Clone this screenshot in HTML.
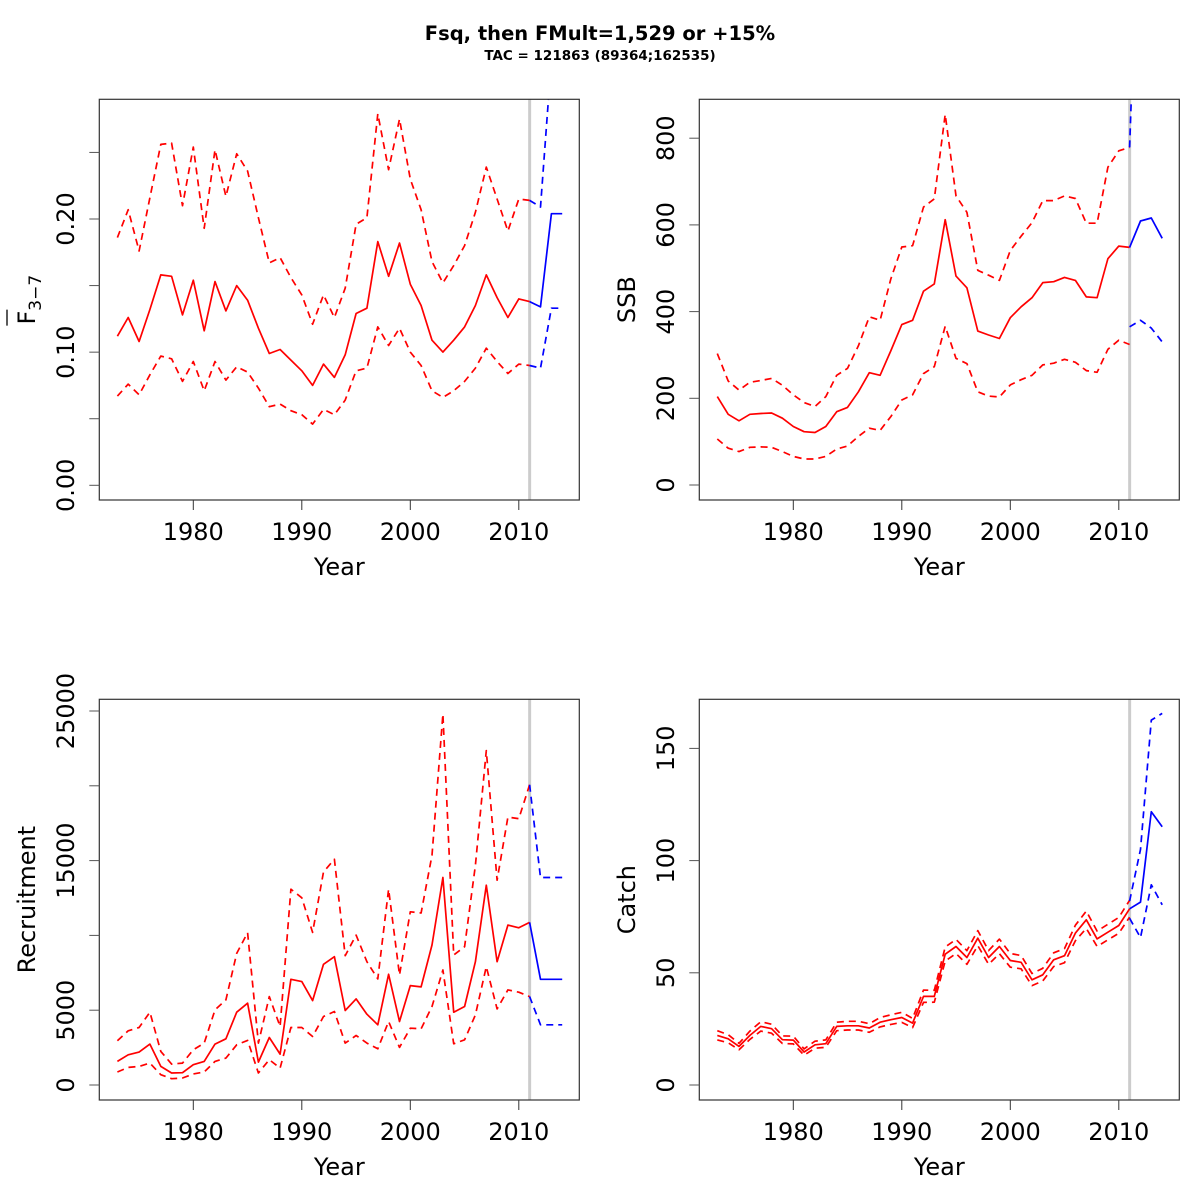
<!DOCTYPE html>
<html><head><meta charset="utf-8"><style>
html,body{margin:0;padding:0;background:#fff;}
svg{display:block;font-family:"DejaVu Sans","Liberation Sans",sans-serif;}
</style></head><body>
<svg id="chart" width="1200" height="1200" viewBox="0 0 1200 1200" xmlns="http://www.w3.org/2000/svg">
<rect width="1200" height="1200" fill="#fff"/>
<text x="600" y="40" text-anchor="middle" font-weight="bold" font-size="19.5">Fsq, then FMult=1,529 or +15%</text>
<text x="600" y="60" text-anchor="middle" font-weight="bold" font-size="13.5">TAC = 121863 (89364;162535)</text>
</svg>
<script>
const yearsHist = [1973,1974,1975,1976,1977,1978,1979,1980,1981,1982,1983,1984,1985,1986,1987,1988,1989,1990,1991,1992,1993,1994,1995,1996,1997,1998,1999,2000,2001,2002,2003,2004,2005,2006,2007,2008,2009,2010,2011];
const yearsProj = [2011,2012,2013,2014];

const fMid = [0.112,0.126,0.108,0.132,0.158,0.157,0.128,0.154,0.116,0.153,0.131,0.150,0.139,0.118,0.099,0.102,0.094,0.086,0.075,0.091,0.081,0.098,0.129,0.133,0.183,0.157,0.182,0.151,0.135,0.109,0.100,0.109,0.119,0.135,0.158,0.141,0.126,0.140,0.138];
const fUp = [0.186,0.207,0.176,0.216,0.256,0.257,0.210,0.254,0.193,0.252,0.217,0.249,0.236,0.201,0.167,0.171,0.156,0.143,0.121,0.143,0.126,0.148,0.196,0.201,0.279,0.237,0.275,0.230,0.207,0.168,0.152,0.165,0.180,0.205,0.239,0.215,0.191,0.215,0.214];
const fLo = [0.067,0.076,0.068,0.083,0.097,0.095,0.078,0.093,0.071,0.093,0.079,0.089,0.085,0.073,0.059,0.061,0.056,0.053,0.046,0.057,0.053,0.064,0.086,0.088,0.119,0.105,0.118,0.100,0.090,0.071,0.066,0.071,0.078,0.088,0.103,0.093,0.084,0.091,0.090];
const fProjMid = [0.138,0.134,0.204,0.204];
const fProjUp = [0.214,0.209,0.32,0.32];
const fProjLo = [0.090,0.088,0.133,0.133];

const ssbMid = [204,163,148,163,165,166,154,135,123,121,135,169,179,215,259,253,310,370,380,447,464,612,482,455,355,346,338,386,411,432,467,469,479,472,434,432,522,551,548];
const ssbUp = [303,240,219,237,241,246,230,208,190,181,204,253,269,321,388,380,476,549,552,641,660,855,667,629,495,484,472,541,574,605,656,656,667,661,604,604,733,771,779];
const ssbLo = [106,85,77,87,88,87,77,66,60,60,66,83,90,112,131,126,158,196,208,257,273,366,292,280,215,205,203,231,243,253,277,281,290,283,264,260,313,334,324];
const ssbProjMid = [548,609,616,569];
const ssbProjUp = [779,1500,1500,1500];
const ssbProjLo = [365,380,362,330];

const recMid = [1578,2022,2200,2733,1244,800,822,1356,1578,2733,3089,4867,5467,1533,3178,2067,7067,6911,5644,8067,8578,4978,5756,4733,4022,7400,4244,6644,6556,9356,13867,4867,5244,8244,13356,8244,10689,10511,10867];
const recUp = [2956,3622,3844,4867,2244,1400,1467,2356,2800,5022,5689,8800,10178,2800,5911,3911,13089,12511,10200,14244,15089,8644,10022,8244,7089,13089,7356,11578,11500,15356,24800,8689,9244,14689,22356,13689,17911,17800,20067];
const recLo = [867,1178,1244,1467,689,422,467,733,867,1578,1800,2689,2978,800,1689,1133,3844,3844,3244,4578,4911,2800,3311,2800,2422,4244,2511,3800,3756,5244,7689,2756,3022,4689,7911,5089,6356,6200,5911];
const recProjMid = [10867,7067,7067,7067];
const recProjUp = [20067,13867,13867,13867];
const recProjLo = [5911,4022,4022,4022];

const catchMid = [22.1,20.6,17.2,22.1,26.1,25.1,20.2,20.0,14.7,17.9,18.4,26.1,26.4,26.4,25.4,28.0,29.1,30.1,27.6,39.5,39.5,58.3,61.7,56.8,65.4,56.8,61.7,55.5,54.7,46.9,49.1,55.8,57.6,67.7,73.6,65.1,68.1,71.1,78.5];
const catchUp = [24.2,22.4,18.6,24.0,28.2,27.1,21.9,21.8,16.1,19.5,20.1,28.0,28.4,28.4,27.3,30.1,31.3,32.4,29.7,42.3,42.2,61.5,64.9,59.9,68.8,59.9,65.0,58.6,57.7,49.7,52.0,58.9,60.8,71.2,77.5,68.6,71.6,74.7,82.3];
const catchLo = [20.1,18.8,15.7,20.3,24.0,23.1,18.5,18.3,13.3,16.4,16.8,24.2,24.5,24.5,23.5,25.9,27.0,27.9,25.6,36.8,36.9,55.2,58.6,53.8,62.1,53.8,58.5,52.5,51.8,44.3,46.4,52.8,54.5,64.3,69.8,61.7,64.7,67.6,74.8];
const catchProjMid = [78.5,81.5,121.8,115.1];
const catchProjUp = [82.0,105.0,162.6,165.6];
const catchProjLo = [74.3,65.7,89.2,80.3];

const xTicks = [1980,1990,2000,2010];
const fTicks = [0,0.05,0.10,0.15,0.20,0.25];
const fTickLabels = ["0.00","","0.10","","0.20",""];
const ssbTicks = [0,200,400,600,800];
const ssbTickLabels = ["0","200","400","600","800"];
const recTicks = [0,5000,10000,15000,20000,25000];
const recTickLabels = ["0","5000","","15000","","25000"];
const catchTicks = [0,50,100,150];
const catchTickLabels = ["0","50","100","150"];

const NS = "http://www.w3.org/2000/svg";
const svg = document.getElementById('chart');
function mk(tag, attrs, parent){const e=document.createElementNS(NS,tag);for(const k in attrs)e.setAttribute(k,attrs[k]);(parent||svg).appendChild(e);return e;}

function panel(p){
  const L=p.ox+99.3, R=p.ox+579.3, T=p.oy+99.3, B=p.oy+500;
  const xs = y => 193.3 + p.ox + (y-1980)*10.85;
  const ys = v => p.y0 - (v - 0)*p.k;
  const g = mk('g',{});
  
  
  const cid='clip-'+p.name;
  const cp=mk('clipPath',{id:cid},g); mk('rect',{x:L,y:T,width:R-L,height:B-T},cp);
  const ref=mk('line',{x1:xs(2011),x2:xs(2011),y1:T,y2:B,stroke:'#cccccc','stroke-width':3},g);
  
  
  const lg=mk('g',{'clip-path':'url(#'+cid+')'},g);
  function line(xv,vals,color,dash,nm){
    const d=vals.map((v,i)=>(i?'L':'M')+xs(xv[i]).toFixed(1)+','+ys(v).toFixed(1)).join('');
    const a={d:d,fill:'none',stroke:color,'stroke-width':1.7,'stroke-linejoin':'round'};
    if(dash)a['stroke-dasharray']='7,5';
    const e=mk('path',a,lg);
    
    
  }
  line(yearsHist,p.up,'#ff0000',true,p.name+'-upper-ci');
  line(yearsHist,p.lo,'#ff0000',true,p.name+'-lower-ci');
  line(yearsHist,p.mid,'#ff0000',false,p.name+'-estimate');
  line(yearsProj,p.pup,'#0000ff',true,p.name+'-proj-upper');
  line(yearsProj,p.plo,'#0000ff',true,p.name+'-proj-lower');
  line(yearsProj,p.pmid,'#0000ff',false,p.name+'-projection');
  const box=mk('rect',{x:L,y:T,width:R-L,height:B-T,fill:'none',stroke:'#333','stroke-width':1.2},g);
  
  
  xTicks.forEach(t=>{
    mk('line',{x1:xs(t),x2:xs(t),y1:B,y2:B+10,stroke:'#333','stroke-width':1},g);
    const tx=mk('text',{x:xs(t),y:B+40,'text-anchor':'middle','font-size':24,fill:'#000'},g);
    tx.textContent=t;
    
    
  });
  const xt=mk('text',{x:(L+R)/2,y:B+75,'text-anchor':'middle','font-size':24,fill:'#000'},g);
  xt.textContent='Year';
  
  
  p.ticks.forEach((t,i)=>{
    mk('line',{x1:L-10,x2:L,y1:ys(t),y2:ys(t),stroke:'#555','stroke-width':1},g);
    if(p.labels[i]){
      const cx=p.ox+74, cy=ys(t);
      const tx=mk('text',{x:cx,y:cy,'text-anchor':'middle','font-size':24,fill:'#000',transform:'rotate(-90 '+cx+' '+cy+')'},g);
      tx.textContent=p.labels[i];
      
      
    }
  });
  const cx=p.ox+35, cy=(T+B)/2;
  const yt=mk('text',{x:cx,y:cy,'text-anchor':'middle','font-size':24,fill:'#000',transform:'rotate(-90 '+cx+' '+cy+')'},g);
  
  
  if(p.title==='F'){
    yt.textContent='F';
    const s=mk('tspan',{'font-size':17,dy:6},yt); s.textContent='3\u22127';
    mk('line',{x1:cx-28,x2:cx-28,y1:cy+10,y2:cy+26,stroke:'#000','stroke-width':1.3},g);
  } else yt.textContent=p.title;
}

panel({name:'f',ox:0,oy:0,y0:485.3,k:1331.5,mid:fMid,up:fUp,lo:fLo,pmid:fProjMid,pup:fProjUp,plo:fProjLo,ticks:fTicks,labels:fTickLabels,title:'F'});
panel({name:'ssb',ox:600,oy:0,y0:485,k:86.7/200,mid:ssbMid,up:ssbUp,lo:ssbLo,pmid:ssbProjMid,pup:ssbProjUp,plo:ssbProjLo,ticks:ssbTicks,labels:ssbTickLabels,title:'SSB'});
panel({name:'recruitment',ox:0,oy:600,y0:1085,k:74.8/5000,mid:recMid,up:recUp,lo:recLo,pmid:recProjMid,pup:recProjUp,plo:recProjLo,ticks:recTicks,labels:recTickLabels,title:'Recruitment'});
panel({name:'catch',ox:600,oy:600,y0:1085,k:112.2/50,mid:catchMid,up:catchUp,lo:catchLo,pmid:catchProjMid,pup:catchProjUp,plo:catchProjLo,ticks:catchTicks,labels:catchTickLabels,title:'Catch'});
</script>
</body></html>
